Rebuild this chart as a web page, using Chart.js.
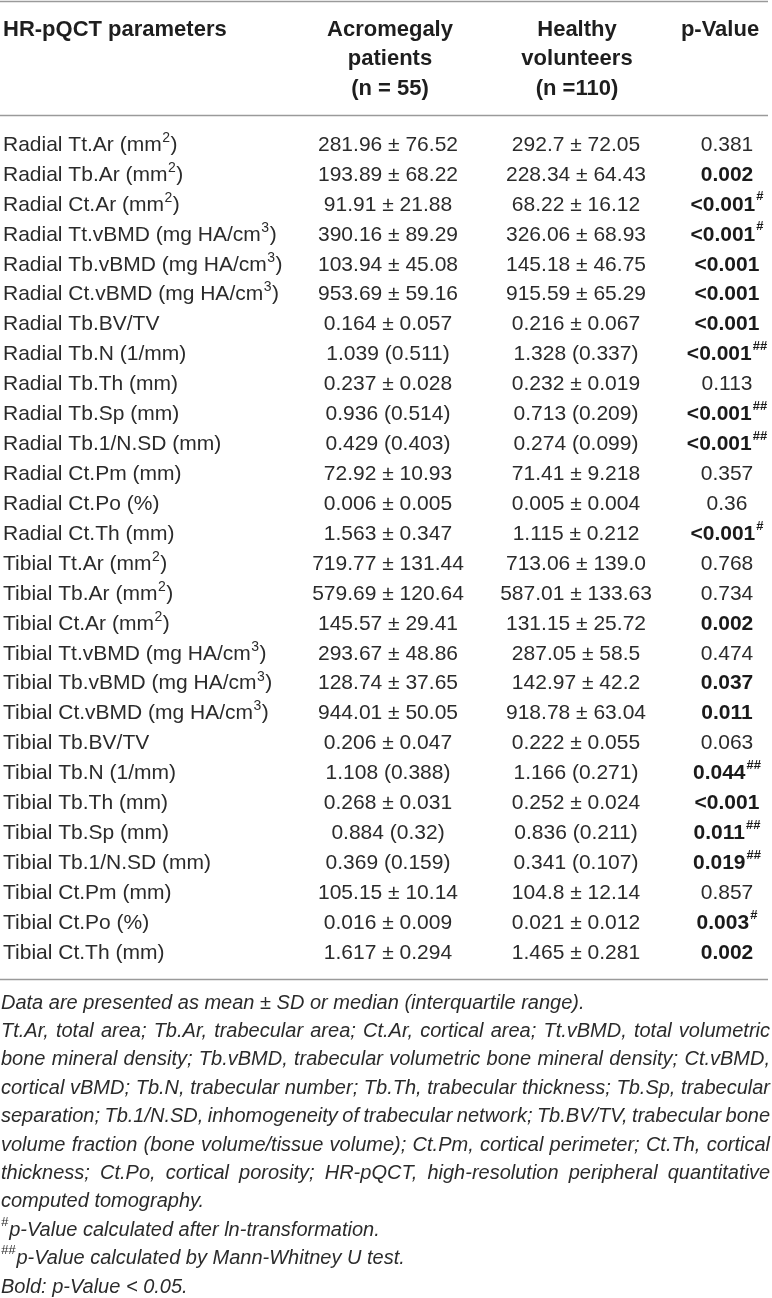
<!DOCTYPE html>
<html>
<head>
<meta charset="utf-8">
<script src="https://cdn.jsdelivr.net/npm/chart.js@4.4.0/dist/chart.umd.min.js"></script>
<style>
	html, body { margin: 0; padding: 0; background: #fff; }
	#wrap { width: 772px; height: 1298px; }
</style>
</head>
<body>
<div id="wrap"><canvas id="hrpqct" width="772" height="1298"></canvas></div>
<script>
// Table rows (parameters) and the three value columns
var params = [
	'Radial Tt.Ar (mm²)', 'Radial Tb.Ar (mm²)', 'Radial Ct.Ar (mm²)',
	'Radial Tt.vBMD (mg HA/cm³)', 'Radial Tb.vBMD (mg HA/cm³)', 'Radial Ct.vBMD (mg HA/cm³)',
	'Radial Tb.BV/TV', 'Radial Tb.N (1/mm)', 'Radial Tb.Th (mm)', 'Radial Tb.Sp (mm)',
	'Radial Tb.1/N.SD (mm)', 'Radial Ct.Pm (mm)', 'Radial Ct.Po (%)', 'Radial Ct.Th (mm)',
	'Tibial Tt.Ar (mm²)', 'Tibial Tb.Ar (mm²)', 'Tibial Ct.Ar (mm²)',
	'Tibial Tt.vBMD (mg HA/cm³)', 'Tibial Tb.vBMD (mg HA/cm³)', 'Tibial Ct.vBMD (mg HA/cm³)',
	'Tibial Tb.BV/TV', 'Tibial Tb.N (1/mm)', 'Tibial Tb.Th (mm)', 'Tibial Tb.Sp (mm)',
	'Tibial Tb.1/N.SD (mm)', 'Tibial Ct.Pm (mm)', 'Tibial Ct.Po (%)', 'Tibial Ct.Th (mm)'
];
var acromegaly = [
	'281.96 ± 76.52', '193.89 ± 68.22', '91.91 ± 21.88', '390.16 ± 89.29', '103.94 ± 45.08',
	'953.69 ± 59.16', '0.164 ± 0.057', '1.039 (0.511)', '0.237 ± 0.028', '0.936 (0.514)',
	'0.429 (0.403)', '72.92 ± 10.93', '0.006 ± 0.005', '1.563 ± 0.347', '719.77 ± 131.44',
	'579.69 ± 120.64', '145.57 ± 29.41', '293.67 ± 48.86', '128.74 ± 37.65', '944.01 ± 50.05',
	'0.206 ± 0.047', '1.108 (0.388)', '0.268 ± 0.031', '0.884 (0.32)', '0.369 (0.159)',
	'105.15 ± 10.14', '0.016 ± 0.009', '1.617 ± 0.294'
];
var healthy = [
	'292.7 ± 72.05', '228.34 ± 64.43', '68.22 ± 16.12', '326.06 ± 68.93', '145.18 ± 46.75',
	'915.59 ± 65.29', '0.216 ± 0.067', '1.328 (0.337)', '0.232 ± 0.019', '0.713 (0.209)',
	'0.274 (0.099)', '71.41 ± 9.218', '0.005 ± 0.004', '1.115 ± 0.212', '713.06 ± 139.0',
	'587.01 ± 133.63', '131.15 ± 25.72', '287.05 ± 58.5', '142.97 ± 42.2', '918.78 ± 63.04',
	'0.222 ± 0.055', '1.166 (0.271)', '0.252 ± 0.024', '0.836 (0.211)', '0.341 (0.107)',
	'104.8 ± 12.14', '0.021 ± 0.012', '1.465 ± 0.281'
];
var pValues = [
	'0.381', '0.002', '<0.001', '<0.001', '<0.001', '<0.001', '<0.001', '<0.001', '0.113',
	'<0.001', '<0.001', '0.357', '0.36', '<0.001', '0.768', '0.734', '0.002', '0.474',
	'0.037', '0.011', '0.063', '0.044', '<0.001', '0.011', '0.019', '0.857', '0.003', '0.002'
];
// footnote marks on p-values (# ln-transformed, ## Mann-Whitney)
var pMarks = [
	'', '', '#', '#', '', '', '', '##', '', '##', '##', '', '', '#',
	'', '', '', '', '', '', '', '##', '', '##', '##', '', '#', ''
];
var headParam = 'HR-pQCT parameters';
var headAcromegaly = ['Acromegaly', 'patients', '(n = 55)'];
var headHealthy = ['Healthy', 'volunteers', '(n =110)'];
var headP = 'p-Value';
var notes = [
	{ text: 'Data are presented as mean ± SD or median (interquartile range).' },
	{ text: 'Tt.Ar, total area; Tb.Ar, trabecular area; Ct.Ar, cortical area; Tt.vBMD, total volumetric', justify: true },
	{ text: 'bone mineral density; Tb.vBMD, trabecular volumetric bone mineral density; Ct.vBMD,', justify: true },
	{ text: 'cortical vBMD; Tb.N, trabecular number; Tb.Th, trabecular thickness; Tb.Sp, trabecular', justify: true },
	{ text: 'separation; Tb.1/N.SD, inhomogeneity of trabecular network; Tb.BV/TV, trabecular bone', justify: true },
	{ text: 'volume fraction (bone volume/tissue volume); Ct.Pm, cortical perimeter; Ct.Th, cortical', justify: true },
	{ text: 'thickness; Ct.Po, cortical porosity; HR-pQCT, high-resolution peripheral quantitative', justify: true },
	{ text: 'computed tomography.' },
	{ sup: '#', text: 'p-Value calculated after ln-transformation.' },
	{ sup: '##', text: 'p-Value calculated by Mann-Whitney U test.' },
	{ text: 'Bold: p-Value < 0.05.' }
];

// Layout (pixels) and look
var FAMILY = '"Liberation Sans", Arial, Helvetica, sans-serif';
var TXT = '#2b2b2b';
var RULE = '#9a9a9a';
var COLS = { param: 3, acromegaly: 388, healthy: 576, p: 727 };      // x scale values
var HEAD_COLS = { acromegaly: 390, healthy: 577, p: 720 };
var HEAD_ROWS = [-3.86, -2.86, -1.88];                                 // y scale (row) values
var RULE_ROWS = [-4.82, -1.0, 27.87];
var NOTE_TOP = 1003, NOTE_STEP = 28.4, NOTE_LEFT = 1, NOTE_RIGHT = 770;
var SUPS = { '²': '2', '³': '3' };

function _isBold(p) {
	return parseFloat(p.replace('<', '')) < 0.05;
}

// Label text with ²/³ drawn as real raised digits
function _drawLabel(ctx, text, x, y) {
	var buf = '';
	for (var c = 0; c < text.length; c++) {
		var ch = text.charAt(c);
		if (SUPS[ch]) {
			ctx.fillText(buf, x, y);
			x += ctx.measureText(buf).width;
			buf = '';
			var font = ctx.font;
			ctx.font = '14px ' + FAMILY;
			ctx.fillText(SUPS[ch], x + 0.5, y - 7);
			x += ctx.measureText(SUPS[ch]).width + 1;
			ctx.font = font;
		} else {
			buf += ch;
		}
	}
	ctx.fillText(buf, x, y);
}

function _drawJustified(ctx, text, x0, x1, y) {
	var words = text.split(' ');
	var wordsW = 0;
	words.forEach(function (w) { wordsW += ctx.measureText(w).width; });
	var minGap = ctx.measureText(' ').width * 0.7;
	var gap = (x1 - x0 - wordsW) / (words.length - 1);
	var sx = 1;
	if (gap < minGap) {
		// squeeze glyphs a little if the line would overflow
		gap = minGap;
		sx = (x1 - x0 - minGap * (words.length - 1)) / wordsW;
	}
	var x = x0;
	words.forEach(function (w) {
		ctx.save();
		ctx.translate(x, y);
		ctx.scale(sx, 1);
		ctx.fillText(w, 0, 0);
		ctx.restore();
		x += ctx.measureText(w).width * sx + gap;
	});
}

var tablePlugin = {
	id: 'tableCells',
	afterDraw: function (chart) {
		var ctx = chart.ctx, xs = chart.scales.x, ys = chart.scales.y;
		ctx.save();
		ctx.textBaseline = 'middle';

		// Rules
		ctx.strokeStyle = RULE;
		ctx.lineWidth = 1.6;
		RULE_ROWS.forEach(function (r) {
			var y = Math.round(ys.getPixelForValue(r)) + 0.5;
			ctx.beginPath();
			ctx.moveTo(xs.getPixelForValue(0), y);
			ctx.lineTo(xs.getPixelForValue(768), y);
			ctx.stroke();
		});

		// Header
		ctx.fillStyle = '#1e1e1e';
		ctx.font = 'bold 22px ' + FAMILY;
		ctx.textAlign = 'left';
		ctx.fillText(headParam, xs.getPixelForValue(COLS.param), ys.getPixelForValue(HEAD_ROWS[0]));
		ctx.textAlign = 'center';
		headAcromegaly.forEach(function (t, k) {
			ctx.fillText(t, xs.getPixelForValue(HEAD_COLS.acromegaly), ys.getPixelForValue(HEAD_ROWS[k]));
		});
		headHealthy.forEach(function (t, k) {
			ctx.fillText(t, xs.getPixelForValue(HEAD_COLS.healthy), ys.getPixelForValue(HEAD_ROWS[k]));
		});
		ctx.fillText(headP, xs.getPixelForValue(HEAD_COLS.p), ys.getPixelForValue(HEAD_ROWS[0]));

		// Body rows
		params.forEach(function (name, i) {
			var y = ys.getPixelForValue(i);
			ctx.fillStyle = TXT;
			ctx.font = '21px ' + FAMILY;
			ctx.textAlign = 'left';
			_drawLabel(ctx, name, xs.getPixelForValue(COLS.param), y);
			ctx.textAlign = 'center';
			ctx.fillText(acromegaly[i], xs.getPixelForValue(COLS.acromegaly), y);
			ctx.fillText(healthy[i], xs.getPixelForValue(COLS.healthy), y);

			// p-value, centred together with its superscript mark
			var bold = _isBold(pValues[i]);
			ctx.font = (bold ? 'bold ' : '') + '21px ' + FAMILY;
			ctx.fillStyle = bold ? '#1a1a1a' : TXT;
			var mainW = ctx.measureText(pValues[i]).width;
			ctx.font = 'bold 13px ' + FAMILY;
			var supW = pMarks[i] ? ctx.measureText(pMarks[i]).width + 1 : 0;
			var x0 = xs.getPixelForValue(COLS.p) - (mainW + supW) / 2;
			ctx.textAlign = 'left';
			ctx.font = (bold ? 'bold ' : '') + '21px ' + FAMILY;
			ctx.fillText(pValues[i], x0, y);
			if (pMarks[i]) {
				ctx.font = 'bold 13px ' + FAMILY;
				ctx.fillText(pMarks[i], x0 + mainW + 1, y - 8);
			}
		});

		// Footnotes
		ctx.fillStyle = TXT;
		ctx.textAlign = 'left';
		notes.forEach(function (n, k) {
			var y = NOTE_TOP + k * NOTE_STEP;
			var x = NOTE_LEFT;
			if (n.sup) {
				ctx.font = 'italic 13px ' + FAMILY;
				ctx.fillText(n.sup, x, y - 8);
				x += ctx.measureText(n.sup).width + 1;
			}
			ctx.font = 'italic 20px ' + FAMILY;
			if (n.justify) {
				_drawJustified(ctx, n.text, x, NOTE_RIGHT, y);
			} else {
				ctx.fillText(n.text, x, y);
			}
		});
		ctx.restore();
	}
};

new Chart(document.getElementById('hrpqct'), {
	type: 'scatter',
	data: { labels: params, datasets: [] },
	options: {
		responsive: false,
		animation: false,
		events: [],
		layout: { padding: { top: 145, bottom: 1298 - 953, left: 0, right: 0 } },
		plugins: { legend: { display: false }, tooltip: { enabled: false } },
		scales: {
			x: { type: 'linear', min: 0, max: 772, display: false },
			y: { type: 'category', labels: params, offset: false, display: false }
		}
	},
	plugins: [tablePlugin]
});
</script>
</body>
</html>
